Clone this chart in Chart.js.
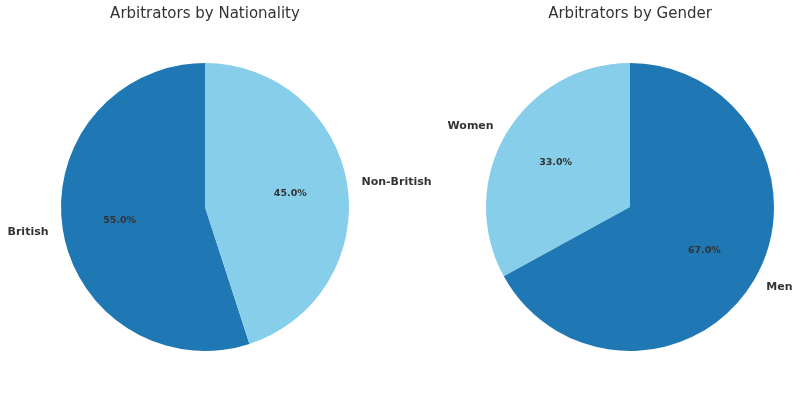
<!DOCTYPE html>
<html>
<head>
<meta charset="utf-8">
<script src="https://cdn.jsdelivr.net/npm/chart.js@4/dist/chart.umd.min.js"></script>
<style>
  html, body { margin: 0; padding: 0; background: #fff; }
  .wrap { width: 800px; height: 398px; position: relative; }
  .wrap canvas { position: absolute; left: 0; top: 0; }
</style>
</head>
<body>
<div class="wrap">
  <canvas id="chart-nac"></canvas>
  <canvas id="chart-gen"></canvas>
</div>
<script>
var nacLabels = ['British', 'Non-British'];
var nacValores = [55, 45];
var genLabels = ['Women', 'Men'];
var genValores = [33, 67];

var AZUL = '#1f77b4';
var CEU = '#87ceeb';
var TEXTO = '#333333';

// desenha titulo, rotulos externos e percentuais (estilo matplotlib)
var rotulosPie = {
  id: 'rotulosPie',
  afterDraw: function (chart) {
    var ctx = chart.ctx;
    var opts = chart.options.plugins.rotulosPie;
    var meta = chart.getDatasetMeta(0);
    var dados = chart.data.datasets[0].data;
    var total = dados.reduce(function (a, b) { return a + b; }, 0);
    var area = chart.chartArea;
    ctx.save();
    ctx.fillStyle = TEXTO;
    ctx.font = '15px "DejaVu Sans"';
    ctx.textAlign = 'center';
    ctx.textBaseline = 'middle';
    ctx.fillText(opts.titulo, (area.left + area.right) / 2, 14);

    meta.data.forEach(function (arc, i) {
      var p = arc.getProps(['x', 'y', 'startAngle', 'endAngle', 'outerRadius'], true);
      var meio = (p.startAngle + p.endAngle) / 2;
      var cx = Math.cos(meio), cy = Math.sin(meio);
      var r = p.outerRadius;

      ctx.font = 'bold 11px "DejaVu Sans"';
      ctx.textAlign = cx > 0 ? 'left' : 'right';
      ctx.fillText(chart.data.labels[i], p.x + cx * r * 1.1, p.y + cy * r * 1.1);

      ctx.font = 'bold 9.5px "DejaVu Sans"';
      ctx.textAlign = 'center';
      ctx.fillText((dados[i] / total * 100).toFixed(1) + '%', p.x + cx * r * 0.6, p.y + cy * r * 0.6);
    });
    ctx.restore();
  }
};

function criarPie(id, labels, valores, cores, rotacao, padding, titulo) {
  var c = document.getElementById(id);
  c.width = 800; c.height = 398;
  c.style.width = '800px'; c.style.height = '398px';
  return new Chart(c, {
    type: 'pie',
    data: {
      labels: labels,
      datasets: [{ data: valores, backgroundColor: cores, borderWidth: 0, hoverOffset: 0 }]
    },
    options: {
      responsive: false,
      animation: false,
      events: [],
      rotation: rotacao,
      layout: { padding: padding },
      plugins: {
        legend: { display: false },
        tooltip: { enabled: false },
        title: { display: false },
        rotulosPie: { titulo: titulo }
      }
    },
    plugins: [rotulosPie]
  });
}

criarPie('chart-nac', nacLabels, nacValores, [AZUL, CEU], 162,
  { top: 63, bottom: 47, left: 61, right: 451 }, 'Arbitrators by Nationality');
criarPie('chart-gen', genLabels, genValores, [CEU, AZUL], 241.2,
  { top: 63, bottom: 47, left: 486, right: 26 }, 'Arbitrators by Gender');
</script>
</body>
</html>
